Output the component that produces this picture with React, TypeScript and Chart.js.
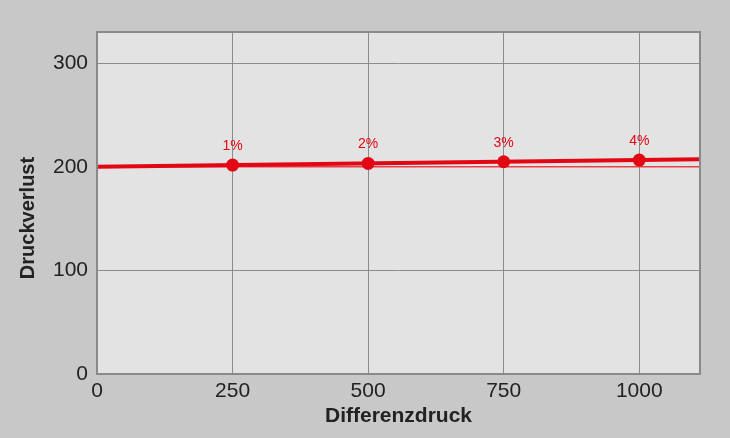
import React, { useEffect, useRef } from "react";
import { Chart, registerables } from "chart.js";

Chart.register(...registerables);

const xTicks = [0, 250, 500, 750, 1000];
const yTicks = [0, 100, 200, 300];
const xMax = 1112;
const yMax = 330;
const pointX = [250, 500, 750, 1000];
const pointY = [201.6, 203.2, 204.8, 206.4];
const pointLabels = ["1%", "2%", "3%", "4%"];
const trendX = [0, 1112];
const trendY = [200, 207.2];
const baseX = [0, 1112];
const baseY = [200, 200];
const xTitle = "Differenzdruck";
const yTitle = "Druckverlust";

const FONT = "'Liberation Sans', Arial, sans-serif";

export default function App() {
  const ref = useRef<HTMLCanvasElement>(null);
  useEffect(() => {
    document.body.style.margin = "0";
    document.body.style.background = "#c7c8c7";
    const canvas = ref.current!;
    const plugin = {
      id: "deco",
      beforeDraw(chart: any) {
        const { ctx, chartArea: a, width, height } = chart;
        ctx.save();
        ctx.fillStyle = "#c7c8c7";
        ctx.fillRect(0, 0, width, height);
        ctx.fillStyle = "#e3e3e3";
        ctx.fillRect(a.left, a.top, a.right - a.left, a.bottom - a.top);
        ctx.restore();
      },
      afterDatasetsDraw(chart: any) {
        const { ctx, chartArea: a } = chart;
        ctx.save();
        // point labels
        const meta = chart.getDatasetMeta(0);
        ctx.fillStyle = "#e30613";
        ctx.font = `14px ${FONT}`;
        ctx.textAlign = "center";
        ctx.textBaseline = "alphabetic";
        meta.data.forEach((el: any, i: number) => {
          ctx.fillText(pointLabels[i], el.x, el.y - 15);
        });
        // border
        ctx.strokeStyle = "#8a8a8a";
        ctx.lineWidth = 2;
        ctx.strokeRect(a.left, a.top, a.right - a.left, a.bottom - a.top);
        // axis titles
        ctx.fillStyle = "#222222";
        ctx.font = `bold 21px ${FONT}`;
        ctx.textAlign = "center";
        ctx.textBaseline = "middle";
        ctx.fillText(xTitle, (a.left + a.right) / 2, 416);
        ctx.translate(28, 218);
        ctx.rotate(-Math.PI / 2);
        ctx.font = `bold 20px ${FONT}`;
        ctx.fillText(yTitle, 0, 0);
        ctx.restore();
      },
    };
    const chart = new Chart(canvas, {
      type: "scatter",
      data: {
        datasets: [
          {
            data: pointX.map((x, i) => ({ x, y: pointY[i] })),
            showLine: false,
            pointRadius: 6.5,
            pointBackgroundColor: "#e30613",
            pointBorderWidth: 0,
            order: 0,
          },
          {
            data: trendX.map((x, i) => ({ x, y: trendY[i] })),
            showLine: true,
            borderColor: "#e30613",
            borderWidth: 4,
            pointRadius: 0,
            order: 1,
          },
          {
            data: baseX.map((x, i) => ({ x, y: baseY[i] })),
            showLine: true,
            borderColor: "#e8404a",
            borderWidth: 1.5,
            pointRadius: 0,
            order: 2,
          },
        ],
      },
      options: {
        animation: false,
        responsive: false,
        devicePixelRatio: 1,
        layout: { padding: { left: 0, top: 32, right: 30, bottom: 0 } },
        plugins: { legend: { display: false }, tooltip: { enabled: false } },
        scales: {
          x: {
            type: "linear",
            min: 0,
            max: xMax,
            afterBuildTicks: (axis: any) => {
              axis.ticks = xTicks.map((v) => ({ value: v }));
            },
            afterFit: (axis: any) => {
              axis.height = 64;
            },
            grid: { color: "#8c8c8c", lineWidth: 1, drawTicks: false },
            border: { display: false },
            ticks: {
              color: "#222222",
              font: { family: FONT, size: 21 },
              padding: 5,
              maxRotation: 0,
              callback: (v: any) => String(v),
            },
          },
          y: {
            type: "linear",
            min: 0,
            max: yMax,
            afterBuildTicks: (axis: any) => {
              axis.ticks = yTicks.map((v) => ({ value: v }));
            },
            afterFit: (axis: any) => {
              axis.width = 97;
            },
            grid: { color: "#8c8c8c", lineWidth: 1, drawTicks: false },
            border: { display: false },
            ticks: {
              color: "#222222",
              font: { family: FONT, size: 21 },
              padding: 9,
              callback: (v: any) => String(v),
            },
          },
        },
      },
      plugins: [plugin],
    });
    return () => chart.destroy();
  }, []);
  return (
    <div style={{ width: 730, height: 438 }}>
      <canvas ref={ref} width={730} height={438} style={{ display: "block" }} />
    </div>
  );
}
